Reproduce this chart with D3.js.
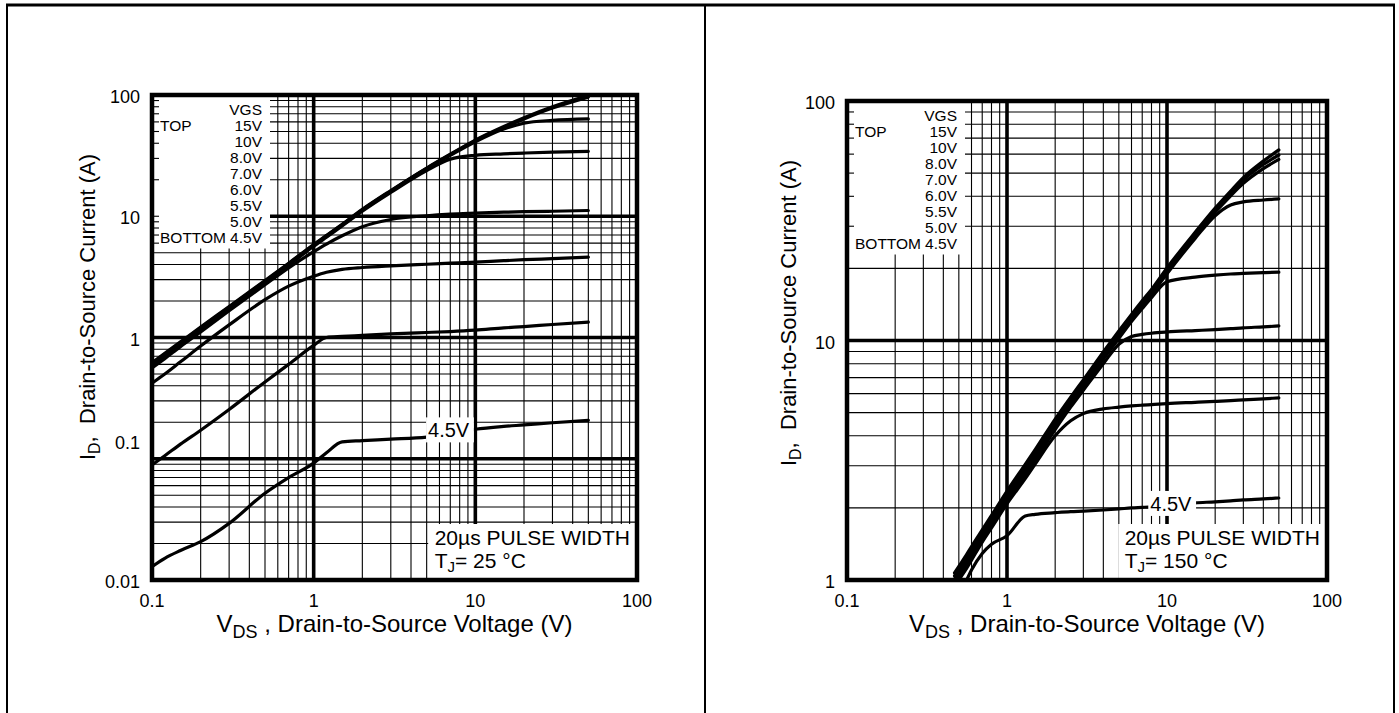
<!DOCTYPE html>
<html>
<head>
<meta charset="utf-8">
<script src="https://cdn.jsdelivr.net/npm/d3@7"></script>
<style>
  body { margin: 0; background: #fff; }
  svg { display: block; font-family: "Liberation Sans", Arial, Helvetica, sans-serif; }
</style>
</head>
<body>
<svg id="chart" width="1399" height="713"></svg>
<script>
// ---- data ----
const vgsLabels = ["15V", "10V", "8.0V", "7.0V", "6.0V", "5.5V", "5.0V", "4.5V"];
const xTicks = [0.1, 1, 10, 100];
const xTickLabels = ["0.1", "1", "10", "100"];
const yTicks25 = [0.01, 0.1, 1, 10, 100];
const yTickLabels25 = ["0.01", "0.1", "1", "10", "100"];
const yTicks150 = [1, 10, 100];
const yTickLabels150 = ["1", "10", "100"];

// Tj = 25 C
const vds25 = [0.1, 0.12, 0.15, 0.2, 0.3, 0.5, 0.7, 1, 1.2, 1.5, 2, 3, 5, 7, 10, 15, 20, 30, 50];
const id25_15 = [0.62, 0.74, 0.92, 1.22, 1.8, 2.95, 4.1, 5.85, 6.95, 8.6, 11.4, 16.3, 25, 32.5, 42.5, 55, 65, 80, 99];
const id25_10 = [0.61, 0.73, 0.905, 1.2, 1.78, 2.92, 4.06, 5.8, 6.9, 8.52, 11.3, 16.15, 24.8, 32.2, 42, 54, 63.5, 78, 96];
const id25_8 = [0.6, 0.72, 0.89, 1.18, 1.76, 2.88, 4.02, 5.74, 6.83, 8.45, 11.2, 16.0, 24.6, 31.8, 41.2, 52.5, 58.5, 61.8, 63.5];
const id25_7 = [0.58, 0.7, 0.87, 1.15, 1.72, 2.83, 3.95, 5.65, 6.72, 8.3, 11.0, 15.7, 23.8, 29.5, 31.8, 32.7, 33.2, 33.8, 34.3];
const id25_6 = [0.56, 0.67, 0.84, 1.11, 1.66, 2.72, 3.75, 5.1, 5.9, 6.9, 8.2, 9.4, 10.1, 10.4, 10.6, 10.8, 10.9, 11.0, 11.15];
const id25_55 = [0.42, 0.5, 0.63, 0.85, 1.27, 2.05, 2.65, 3.2, 3.45, 3.65, 3.78, 3.9, 4.02, 4.1, 4.18, 4.3, 4.38, 4.47, 4.6];
const id25_5 = [0.089, 0.106, 0.132, 0.172, 0.255, 0.43, 0.6, 0.86, 1.0, 1.02, 1.04, 1.07, 1.1, 1.12, 1.15, 1.2, 1.23, 1.28, 1.34];
const id25_45 = [0.0129, 0.0151, 0.0175, 0.0207, 0.0293, 0.052, 0.07, 0.092, 0.112, 0.138, 0.141, 0.145, 0.151, 0.16, 0.175, 0.185, 0.19, 0.198, 0.207];

// Tj = 150 C
const vds150 = [0.47, 0.5, 0.56, 0.6, 0.7, 0.8, 1, 1.3, 1.5, 2, 2.5, 3, 4, 5, 6, 7, 8, 10, 15, 20, 25, 30, 40, 50];
const id150_15 = [1.07, 1.14, 1.28, 1.38, 1.62, 1.86, 2.35, 3.04, 3.5, 4.7, 5.8, 6.85, 8.95, 10.95, 12.85, 14.65, 16.35, 20.1, 28.3, 35.7, 42.1, 47.9, 56.1, 62.5];
const id150_10 = [1.04, 1.11, 1.25, 1.35, 1.59, 1.82, 2.3, 2.97, 3.42, 4.6, 5.69, 6.72, 8.8, 10.78, 12.65, 14.45, 16.15, 19.75, 27.9, 35.1, 41.3, 46.8, 54.3, 59.5];
const id150_8 = [1.01, 1.08, 1.22, 1.31, 1.55, 1.78, 2.25, 2.9, 3.34, 4.5, 5.57, 6.58, 8.62, 10.55, 12.4, 14.15, 15.85, 19.35, 27.3, 34.3, 40.2, 45.3, 52.2, 57];
const id150_7 = [0.99, 1.06, 1.19, 1.28, 1.52, 1.75, 2.2, 2.85, 3.28, 4.42, 5.48, 6.48, 8.48, 10.4, 12.2, 13.9, 15.6, 19.0, 26.7, 33.2, 36.8, 37.9, 38.6, 39];
const id150_6 = [0.97, 1.03, 1.16, 1.26, 1.49, 1.71, 2.16, 2.8, 3.22, 4.34, 5.38, 6.36, 8.35, 10.2, 12.0, 13.6, 15.1, 17.6, 18.4, 18.75, 18.95, 19.05, 19.2, 19.3];
const id150_55 = [0.95, 1.01, 1.14, 1.23, 1.46, 1.68, 2.12, 2.75, 3.16, 4.25, 5.27, 6.2, 8.0, 9.65, 10.4, 10.6, 10.72, 10.85, 11.0, 11.1, 11.2, 11.3, 11.4, 11.5];
const id150_5 = [0.94, 1.0, 1.12, 1.21, 1.44, 1.65, 2.08, 2.65, 3.05, 4.0, 4.62, 4.95, 5.18, 5.27, 5.33, 5.37, 5.4, 5.45, 5.52, 5.57, 5.61, 5.65, 5.71, 5.76];
const id150_45 = [null, null, 1.0, 1.1, 1.29, 1.41, 1.53, 1.85, 1.88, 1.91, 1.93, 1.94, 1.96, 1.98, 2.0, 2.01, 2.02, 2.05, 2.1, 2.12, 2.14, 2.16, 2.18, 2.2];

const svg = d3.select("#chart");
svg.append("rect").attr("width", 1399).attr("height", 713).attr("fill", "#fff");

// page frame lines
const page = svg.append("g").attr("stroke", "#000");
page.append("line").attr("x1", 6).attr("x2", 1395).attr("y1", 5).attr("y2", 5).attr("stroke-width", 3);
[7, 705, 1394].forEach(px => {
  page.append("line").attr("x1", px).attr("x2", px).attr("y1", 4).attr("y2", 713).attr("stroke-width", 2);
});

const isMajor = v => Math.abs(Math.log10(v) - Math.round(Math.log10(v))) < 1e-6;

// log-log interpolation of a series at v
function interpLog(xs, ys, v) {
  for (let i = 1; i < xs.length; i++) {
    if (v <= xs[i] && ys[i - 1] != null) {
      const t = (Math.log(v) - Math.log(xs[i - 1])) / (Math.log(xs[i]) - Math.log(xs[i - 1]));
      return Math.exp(Math.log(ys[i - 1]) + t * (Math.log(ys[i]) - Math.log(ys[i - 1])));
    }
  }
  return ys[ys.length - 1];
}

function drawChart(c) {
  const g = svg.append("g");
  const x = d3.scaleLog().domain([0.1, 100]).range([c.left, c.right]);
  const y = d3.scaleLog().domain(c.yDomain).range([c.bottom, c.top]);

  const gridLayer = g.append("g").attr("stroke", "#000");
  const curveLayer = g.append("g");
  const boxLayer = g.append("g").attr("fill", "#fff");
  const textLayer = g.append("g").attr("fill", "#000");
  const frameLayer = g.append("g");

  // grid
  const xg = x.ticks().filter(v => v > 0.1001 && v < 99.9);
  const yg = y.ticks().filter(v => v > c.yDomain[0] * 1.001 && v < c.yDomain[1] * 0.999);
  gridLayer.selectAll(".gx").data(xg).join("line")
    .attr("x1", d => x(d)).attr("x2", d => x(d))
    .attr("y1", c.top).attr("y2", c.bottom)
    .attr("stroke-width", d => isMajor(d) ? 3.6 : 1.1);
  gridLayer.selectAll(".gy").data(yg).join("line")
    .attr("y1", d => y(d)).attr("y2", d => y(d))
    .attr("x1", c.left).attr("x2", c.right)
    .attr("stroke-width", d => isMajor(d) ? 3.6 : 1.1);

  // curves
  const clipId = "clip-" + c.id;
  g.append("clipPath").attr("id", clipId).append("rect")
    .attr("x", c.left).attr("y", c.top).attr("width", c.right - c.left).attr("height", c.bottom - c.top);
  const line = d3.line()
    .defined(d => d[1] != null)
    .x(d => x(d[0])).y(d => y(d[1]))
    .curve(d3.curveMonotoneX);
  curveLayer.attr("clip-path", `url(#${clipId})`)
    .selectAll("path").data(c.series).join("path")
    .attr("d", s => line(c.vds.map((v, i) => [v, s[i]])))
    .attr("fill", "none").attr("stroke", "#000").attr("stroke-width", 3.2)
    .attr("stroke-linejoin", "round").attr("stroke-linecap", "round");

  // legend box (top-left)
  const rowGap = 16, firstRow = c.top + 19.5;
  const legendBottom = firstRow + rowGap * vgsLabels.length + 6;
  boxLayer.append("rect").attr("x", c.left).attr("y", c.top)
    .attr("width", 118).attr("height", legendBottom - c.top);
  // tick stubs on the left frame inside the legend box
  frameLayer.selectAll(".stub").data(yg.filter(v => y(v) < legendBottom)).join("line")
    .attr("x1", c.left).attr("x2", c.left + 7)
    .attr("y1", d => y(d)).attr("y2", d => y(d))
    .attr("stroke", "#000").attr("stroke-width", 1.1);

  const legend = textLayer.append("g").attr("font-size", 15.5);
  legend.append("text").attr("x", c.left + 110).attr("y", firstRow).attr("text-anchor", "end").text("VGS");
  legend.selectAll(".vgs").data(vgsLabels).join("text")
    .attr("x", c.left + 110).attr("y", (d, i) => firstRow + rowGap * (i + 1))
    .attr("text-anchor", "end").text(d => d);
  legend.append("text").attr("x", c.left + 8).attr("y", firstRow + rowGap).text("TOP");
  legend.append("text").attr("x", c.left + 8).attr("y", firstRow + rowGap * vgsLabels.length).text("BOTTOM");

  // 4.5V curve label
  const lowCurve = c.series[c.series.length - 1];
  const lab = textLayer.append("text").attr("font-size", 20)
    .attr("x", x(c.labelVds))
    .attr("y", y(interpLog(c.vds, lowCurve, c.labelVds)) + c.labelDy)
    .text("4.5V");
  const lb = lab.node().getBBox();
  boxLayer.append("rect").attr("x", lb.x - 2).attr("y", lb.y - 2)
    .attr("width", lb.width + 6).attr("height", lb.height + 3);

  // pulse width annotation
  const ann = textLayer.append("g").attr("font-size", 21);
  const t1 = ann.append("text").attr("y", c.bottom - 35).text("20µs PULSE WIDTH");
  const tx = c.right - 7 - t1.node().getComputedTextLength();
  t1.attr("x", tx);
  const t2 = ann.append("text").attr("x", tx).attr("y", c.bottom - 12);
  t2.append("tspan").text("T");
  t2.append("tspan").attr("font-size", 15).attr("dy", 4).text("J");
  t2.append("tspan").attr("dy", -4).text("= " + c.temp + " °C");
  boxLayer.append("rect").attr("x", tx - 6.5).attr("y", c.bottom - 56)
    .attr("width", c.right - tx + 6.5).attr("height", 56);

  // frame
  frameLayer.append("rect").attr("x", c.left).attr("y", c.top)
    .attr("width", c.right - c.left).attr("height", c.bottom - c.top)
    .attr("fill", "none").attr("stroke", "#000").attr("stroke-width", 4.5);

  // tick labels
  textLayer.selectAll(".xl").data(xTicks).join("text")
    .attr("x", d => x(d)).attr("y", c.bottom + 27)
    .attr("text-anchor", "middle").attr("font-size", 18)
    .text((d, i) => xTickLabels[i]);
  textLayer.selectAll(".yl").data(c.yTicks).join("text")
    .attr("x", c.left - 12)
    .attr("y", d => y(d) + 8 + (c.yNudge[d] || 0))
    .attr("text-anchor", "end").attr("font-size", 18)
    .text((d, i) => c.yTickLabels[i]);

  // axis titles
  const xt = textLayer.append("text").attr("x", (c.left + c.right) / 2).attr("y", 632)
    .attr("text-anchor", "middle").attr("font-size", 24);
  xt.append("tspan").text("V");
  xt.append("tspan").attr("font-size", 18).attr("dy", 6).text("DS");
  xt.append("tspan").attr("dy", -6).text(" , Drain-to-Source Voltage (V)");

  const yt = textLayer.append("text")
    .attr("transform", `translate(${c.left - c.yTitleOffset},${c.top + 212}) rotate(-90)`)
    .attr("text-anchor", "middle").attr("font-size", 22);
  yt.append("tspan").text("I");
  yt.append("tspan").attr("font-size", 16).attr("dy", 5).text("D");
  yt.append("tspan").attr("dy", -5).attr("xml:space", "preserve").text(",  Drain-to-Source Current (A)");
}

drawChart({
  id: "25", left: 152, right: 637, top: 95, bottom: 580,
  yDomain: [0.01, 100], yTicks: yTicks25, yTickLabels: yTickLabels25,
  yNudge: { 0.1: -18 },
  vds: vds25,
  series: [id25_15, id25_10, id25_8, id25_7, id25_6, id25_55, id25_5, id25_45],
  labelVds: 5.1, labelDy: 0.5, temp: "25", yTitleOffset: 57
});

drawChart({
  id: "150", left: 847, right: 1327, top: 101, bottom: 580,
  yDomain: [1, 100], yTicks: yTicks150, yTickLabels: yTickLabels150,
  yNudge: {},
  vds: vds150,
  series: [id150_15, id150_10, id150_8, id150_7, id150_6, id150_55, id150_5, id150_45],
  labelVds: 7.86, labelDy: 4, temp: "150", yTitleOffset: 51
});
</script>
</body>
</html>
